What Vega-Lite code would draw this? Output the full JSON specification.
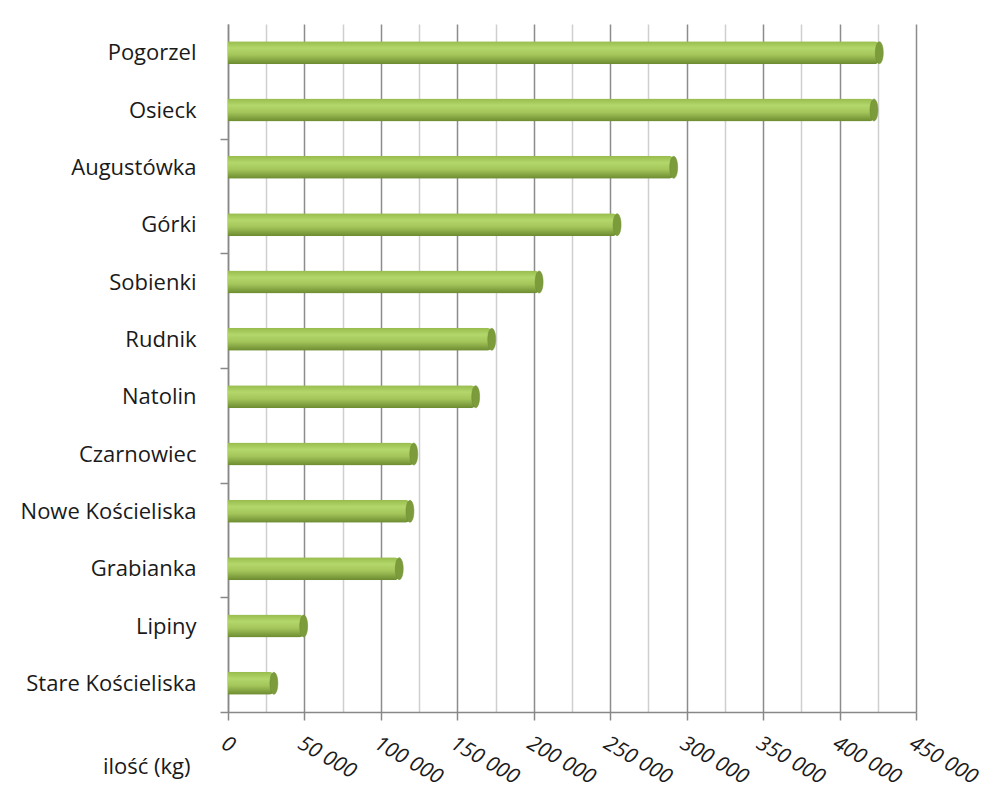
{
  "$schema": "https://vega.github.io/schema/vega-lite/v6.json",
  "autosize": "none",
  "width": 688,
  "height": 688,
  "padding": {"left": 228, "top": 24, "right": 75, "bottom": 86},
  "background": "white",
  "config": {"view": {"stroke": null}, "font": "Open Sans"},
  "data": {"values": [
    {"miejscowosc": "Pogorzel", "ilosc": 426000},
    {"miejscowosc": "Osieck", "ilosc": 422500},
    {"miejscowosc": "Augustówka", "ilosc": 291500},
    {"miejscowosc": "Górki", "ilosc": 254500},
    {"miejscowosc": "Sobienki", "ilosc": 203500},
    {"miejscowosc": "Rudnik", "ilosc": 172500},
    {"miejscowosc": "Natolin", "ilosc": 162000},
    {"miejscowosc": "Czarnowiec", "ilosc": 121500},
    {"miejscowosc": "Nowe Kościeliska", "ilosc": 119000},
    {"miejscowosc": "Grabianka", "ilosc": 112000},
    {"miejscowosc": "Lipiny", "ilosc": 49500},
    {"miejscowosc": "Stare Kościeliska", "ilosc": 30000}
  ]},
  "encoding": {
    "y": {
      "field": "miejscowosc", "type": "nominal", "sort": null,
      "scale": {"paddingInner": 0.6, "paddingOuter": 0.3},
      "axis": {
        "title": null, "labelFontSize": 22, "labelColor": "#1a1a1a", "labelPadding": 24,
        "tickSize": 8, "tickOffset": 28.6, "labelOffset": -28.6,
        "tickColor": {"condition": {"test": "indexof(['Osieck','Górki','Rudnik','Czarnowiec','Grabianka','Stare Kościeliska'], datum.value) >= 0", "value": "#888888"}, "value": "transparent"},
        "tickWidth": 1.5,
        "domainColor": "#888888", "domainWidth": 1.5
      }
    },
    "x": {
      "field": "ilosc", "type": "quantitative",
      "scale": {"domain": [0, 450000], "nice": false},
      "axis": {
        "values": [0, 25000, 50000, 75000, 100000, 125000, 150000, 175000, 200000, 225000, 250000, 275000, 300000, 325000, 350000, 375000, 400000, 425000, 450000],
        "labelExpr": "datum.value % 50000 === 0 ? (datum.value === 0 ? '0' : (datum.value / 1000) + ' 000') : ''",
        "labelAngle": 30, "labelAlign": "left", "labelBaseline": "top",
        "labelFontSize": 21, "labelFontStyle": "italic", "labelColor": "#1a1a1a", "labelPadding": 12,
        "labelOverlap": false, "labelFlush": false,
        "grid": true,
        "gridColor": {"condition": {"test": "datum.value % 50000 === 0", "value": "#8c8c8c"}, "value": "#cfcfcf"},
        "gridWidth": 1.5,
        "tickColor": {"condition": {"test": "datum.value % 50000 === 0", "value": "#888888"}, "value": "transparent"},
        "tickSize": 8, "tickWidth": 1.5,
        "domainColor": "#888888", "domainWidth": 1.5,
        "title": "ilość (kg)", "titleFontSize": 22, "titleFontWeight": "normal", "titleColor": "#1a1a1a",
        "titleAlign": "right", "titleAnchor": "start", "titleX": -38, "titleY": 61, "titleBaseline": "alphabetic"
      }
    }
  },
  "layer": [
    {
      "mark": {
        "type": "bar", "cornerRadiusEnd": 5,
        "color": {"gradient": "linear", "x1": 0, "y1": 0, "x2": 0, "y2": 1,
          "stops": [
            {"offset": 0, "color": "#98bb4c"},
            {"offset": 0.3, "color": "#b4d76c"},
            {"offset": 0.6, "color": "#a3c55a"},
            {"offset": 1, "color": "#6b8a30"}
          ]}
      }
    },
    {
      "mark": {
        "type": "point", "filled": true, "opacity": 1, "color": "#7c9c3c",
        "shape": "M0,-1A0.36,1 0 1,1 0,1A0.36,1 0 1,1 0,-1Z",
        "size": 484, "stroke": "#6b8a30", "strokeWidth": 0.5
      }
    }
  ]
}
